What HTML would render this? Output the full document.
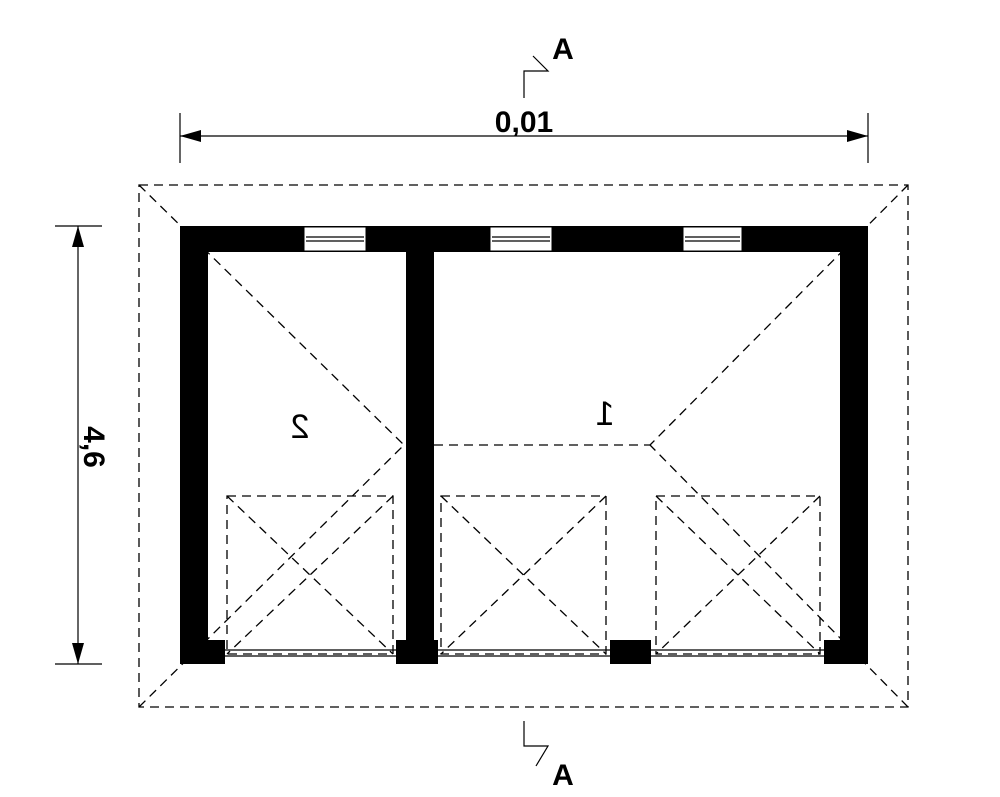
<!DOCTYPE html>
<html><head><meta charset="utf-8"><style>html,body{margin:0;padding:0;background:#fff}svg{display:block}</style></head>
<body>
<svg width="1000" height="797" viewBox="0 0 1000 797" xmlns="http://www.w3.org/2000/svg" font-family="Liberation Sans, sans-serif">
<rect width="1000" height="797" fill="#fff"/>
<g fill="none" stroke="#000" stroke-width="1.3" stroke-dasharray="9,6">
<rect x="139" y="185" width="769" height="522"/>
<line x1="139" y1="185" x2="404" y2="445"/>
<line x1="139" y1="707" x2="404" y2="445"/>
<line x1="908" y1="185" x2="650" y2="445"/>
<line x1="908" y1="707" x2="650" y2="445"/>
<line x1="434" y1="445" x2="650" y2="445"/>
<rect x="227" y="496" width="166" height="158"/>
<line x1="227" y1="496" x2="393" y2="654"/><line x1="393" y1="496" x2="227" y2="654"/>
<rect x="441" y="496" width="165" height="158"/>
<line x1="441" y1="496" x2="606" y2="654"/><line x1="606" y1="496" x2="441" y2="654"/>
<rect x="656" y="496" width="164" height="158"/>
<line x1="656" y1="496" x2="820" y2="654"/><line x1="820" y1="496" x2="656" y2="654"/>
</g>
<g fill="#000">
<rect x="180" y="226" width="688" height="26"/>
<rect x="180" y="226" width="28" height="438"/>
<rect x="840" y="226" width="28" height="438"/>
<rect x="406" y="226" width="28" height="420"/>
<rect x="180" y="640" width="45" height="24"/>
<rect x="396" y="640" width="42" height="24"/>
<rect x="610" y="640" width="41" height="24"/>
<rect x="824" y="640" width="44" height="24"/>
</g>
<g fill="#fff" stroke="#000" stroke-width="1">
<rect x="304" y="227" width="62" height="24"/>
<rect x="490" y="227" width="62" height="24"/>
<rect x="683" y="227" width="59" height="24"/>
</g>
<g stroke="#000" stroke-width="1.2">
<line x1="306" y1="237" x2="364" y2="237"/><line x1="306" y1="241" x2="364" y2="241"/>
<line x1="492" y1="237" x2="550" y2="237"/><line x1="492" y1="241" x2="550" y2="241"/>
<line x1="685" y1="237" x2="740" y2="237"/><line x1="685" y1="241" x2="740" y2="241"/>
<line x1="225" y1="650" x2="396" y2="650"/><line x1="225" y1="656" x2="396" y2="656"/>
<line x1="438" y1="650" x2="610" y2="650"/><line x1="438" y1="656" x2="610" y2="656"/>
<line x1="651" y1="650" x2="824" y2="650"/><line x1="651" y1="656" x2="824" y2="656"/>
<line x1="180" y1="136" x2="868" y2="136"/>
<line x1="180" y1="113" x2="180" y2="163"/>
<line x1="868" y1="113" x2="868" y2="163"/>
<line x1="78" y1="226" x2="78" y2="664"/>
<line x1="55" y1="226" x2="102" y2="226"/>
<line x1="55" y1="664" x2="102" y2="664"/>
<polyline fill="none" points="524,98 524,71 548,71 533,56"/>
<polyline fill="none" points="524,721 524,746 548,746 536,766"/>
</g>
<g fill="#000">
<polygon points="180,136 201,130 201,142"/>
<polygon points="868,136 847,130 847,142"/>
<polygon points="78,226 72,247 84,247"/>
<polygon points="78,664 72,643 84,643"/>
</g>
<g font-weight="bold" font-size="30" text-anchor="middle">
<text x="524" y="132">0,01</text>
<text x="563" y="59">A</text>
<text x="563" y="785">A</text>
<text transform="translate(84,447) rotate(90)">4,6</text>
</g>
<g font-size="34" text-anchor="middle">
<text transform="translate(300,438) scale(-1,1)">2</text>
<text transform="translate(605,425) scale(-1,1)">1</text>
</g>
</svg>
</body></html>
